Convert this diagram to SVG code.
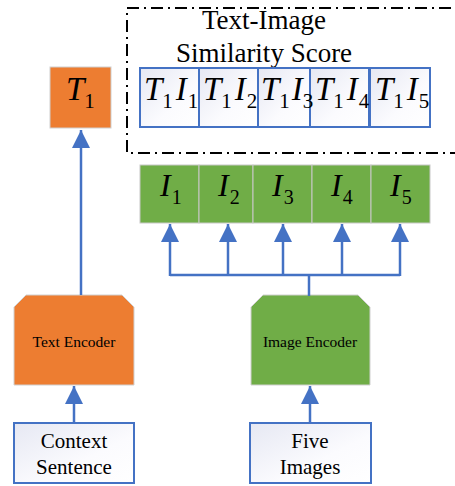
<svg xmlns="http://www.w3.org/2000/svg" width="455" height="486" viewBox="0 0 455 486">
<style>
.serif{font-family:"Liberation Serif","Times New Roman",serif;fill:#000}
.it{font-style:italic}
.wbox{fill:url(#g);stroke:#4472C4;stroke-width:2}
.gcell{fill:#70AD47;stroke:#c8c8c8;stroke-width:1}
.conn{stroke:#4472C4;stroke-width:2.5;fill:none}
</style>
<defs>
<linearGradient id="g" x1="0" y1="0" x2="1" y2="1">
<stop offset="0" stop-color="#e6e8f3"/>
<stop offset="0.6" stop-color="#fbfbfe"/>
<stop offset="1" stop-color="#ffffff"/>
</linearGradient>
<marker id="ah" viewBox="0 0 18 18" refX="18" refY="9" markerWidth="18" markerHeight="18" markerUnits="userSpaceOnUse" orient="auto">
<path d="M0,0 L18,9 L0,18 Z" fill="#4472C4"/>
</marker>
</defs>

<g id="similarity">
<rect x="127" y="8" width="335" height="145" fill="none" stroke="#000" stroke-width="2" stroke-dasharray="12,5,2,5"/>
<text class="serif" x="264" y="29" font-size="27" text-anchor="middle">Text-Image</text>
<text class="serif" x="264" y="62" font-size="27" text-anchor="middle">Similarity Score</text>
<rect class="wbox" x="140" y="68" width="59" height="59"/>
<rect class="wbox" x="199" y="68" width="59" height="59"/>
<rect class="wbox" x="258" y="68" width="52" height="59"/>
<rect class="wbox" x="310" y="68" width="59" height="59"/>
<rect class="wbox" x="370" y="68" width="60" height="59"/>
<g class="serif" font-size="33">
<text x="144" y="100"><tspan class="it">T</tspan><tspan font-size="21" dy="8">1</tspan><tspan class="it" dy="-8" dx="3">I</tspan><tspan font-size="21" dy="8" dx="1">1</tspan></text>
<text x="203" y="100"><tspan class="it">T</tspan><tspan font-size="21" dy="8">1</tspan><tspan class="it" dy="-8" dx="3">I</tspan><tspan font-size="21" dy="8" dx="1">2</tspan></text>
<text x="261" y="100"><tspan class="it">T</tspan><tspan font-size="21" dy="8">1</tspan><tspan class="it" dy="-8" dx="2">I</tspan><tspan font-size="21" dy="8" dx="0">3</tspan></text>
<text x="315" y="100"><tspan class="it">T</tspan><tspan font-size="21" dy="8">1</tspan><tspan class="it" dy="-8" dx="3">I</tspan><tspan font-size="21" dy="8" dx="1">4</tspan></text>
<text x="375" y="100"><tspan class="it">T</tspan><tspan font-size="21" dy="8">1</tspan><tspan class="it" dy="-8" dx="3">I</tspan><tspan font-size="21" dy="8" dx="1">5</tspan></text>
</g>
</g>

<g id="image-features">
<rect class="gcell" x="140" y="165" width="59" height="58"/>
<rect class="gcell" x="199" y="165" width="54" height="58"/>
<rect class="gcell" x="253" y="165" width="59" height="58"/>
<rect class="gcell" x="312" y="165" width="59" height="58"/>
<rect class="gcell" x="371" y="165" width="59" height="58"/>
<g class="serif" font-size="32">
<text x="160" y="196"><tspan class="it">I</tspan><tspan font-size="20" dy="8" dx="1">1</tspan></text>
<text x="218" y="196"><tspan class="it">I</tspan><tspan font-size="20" dy="8" dx="1">2</tspan></text>
<text x="272" y="196"><tspan class="it">I</tspan><tspan font-size="20" dy="8" dx="1">3</tspan></text>
<text x="331" y="196"><tspan class="it">I</tspan><tspan font-size="20" dy="8" dx="1">4</tspan></text>
<text x="390" y="196"><tspan class="it">I</tspan><tspan font-size="20" dy="8" dx="1">5</tspan></text>
</g>
</g>

<g id="t1">
<rect x="50" y="67" width="61" height="61" fill="#ED7D31" stroke="#d0d0d0" stroke-width="1"/>
<text class="serif" x="66" y="100" font-size="33"><tspan class="it">T</tspan><tspan font-size="21" dy="8">1</tspan></text>
</g>

<g id="text-encoder">
<path d="M26,295 L122,295 L134,307 L134,385 L14,385 L14,307 Z" fill="#ED7D31" stroke="#d0d0d0" stroke-width="1"/>
<text class="serif" x="74" y="347" font-size="15.5" text-anchor="middle">Text Encoder</text>
</g>

<g id="image-encoder">
<path d="M263,295 L358,295 L370,307 L370,385 L251,385 L251,307 Z" fill="#70AD47" stroke="#d0d0d0" stroke-width="1"/>
<text class="serif" x="310" y="347" font-size="15.5" text-anchor="middle">Image Encoder</text>
</g>

<g id="context-sentence">
<rect class="wbox" x="14" y="423" width="120" height="60"/>
<text class="serif" x="74" y="448" font-size="21" text-anchor="middle">Context</text>
<text class="serif" x="74" y="474" font-size="21" text-anchor="middle">Sentence</text>
</g>

<g id="five-images">
<rect class="wbox" x="250" y="423" width="121" height="60"/>
<text class="serif" x="310" y="448" font-size="21" text-anchor="middle">Five</text>
<text class="serif" x="310" y="474" font-size="21" text-anchor="middle">Images</text>
</g>

<g id="connectors">
<path class="conn" d="M81,295 L81,130" marker-end="url(#ah)"/>
<path class="conn" d="M74,423 L74,386" marker-end="url(#ah)"/>
<path class="conn" d="M310,423 L310,386" marker-end="url(#ah)"/>
<path class="conn" d="M309,296 L309,275"/>
<path class="conn" d="M170,275 L400,275"/>
<path class="conn" d="M170,276 L170,224" marker-end="url(#ah)"/>
<path class="conn" d="M228,276 L228,224" marker-end="url(#ah)"/>
<path class="conn" d="M283,276 L283,224" marker-end="url(#ah)"/>
<path class="conn" d="M342,276 L342,224" marker-end="url(#ah)"/>
<path class="conn" d="M400,276 L400,224" marker-end="url(#ah)"/>
</g>
</svg>
